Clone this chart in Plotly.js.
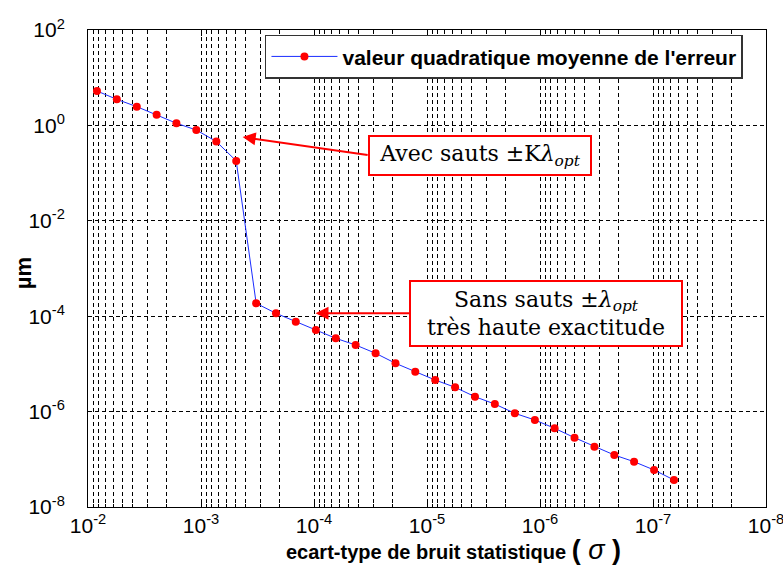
<!DOCTYPE html>
<html>
<head>
<meta charset="utf-8">
<script src="https://cdn.plot.ly/plotly-3.0.1.min.js"></script>
<style>html,body{margin:0;padding:0;background:#fff;}#chart{width:783px;height:567px;}</style>
</head>
<body>
<div id="chart"></div>
<script>
// ecart-type de bruit statistique (sigma)
var sigma = [8.33e-3, 5.56e-3, 3.70e-3, 2.47e-3, 1.65e-3, 1.10e-3, 7.32e-4, 4.88e-4,
             3.25e-4, 2.17e-4, 1.45e-4, 9.63e-5, 6.42e-5, 4.28e-5, 2.85e-5, 1.90e-5,
             1.27e-5, 8.46e-6, 5.64e-6, 3.76e-6, 2.51e-6, 1.67e-6, 1.11e-6, 7.43e-7,
             4.95e-7, 3.30e-7, 2.20e-7, 1.47e-7, 9.78e-8, 6.52e-8];
// valeur quadratique moyenne de l'erreur (um)
var rmsErr = [5.26, 3.52, 2.47, 1.68, 1.11, 0.80, 0.46, 0.18,
              1.86e-4, 1.15e-4, 7.67e-5, 5.14e-5, 3.44e-5, 2.49e-5, 1.67e-5, 1.03e-5,
              6.86e-6, 4.59e-6, 3.23e-6, 2.05e-6, 1.44e-6, 9.2e-7, 6.67e-7, 4.47e-7,
              2.84e-7, 1.84e-7, 1.23e-7, 8.9e-8, 5.97e-8, 3.68e-8];
var yTickVals = [1e-8, 1e-6, 1e-4, 1e-2, 1e0, 1e2];
var yTickText = ['10<sup>-8</sup>', '10<sup>-6</sup>', '10<sup>-4</sup>', '10<sup>-2</sup>', '10<sup>0</sup>', '10<sup>2</sup>'];
var xTickVals = [1e-2, 1e-3, 1e-4, 1e-5, 1e-6, 1e-7, 1e-8];
var xTickText = ['10<sup>-2</sup>', '10<sup>-3</sup>', '10<sup>-4</sup>', '10<sup>-5</sup>', '10<sup>-6</sup>', '10<sup>-7</sup>', '10<sup>-8</sup>'];
var legendName = "valeur quadratique moyenne de l'erreur";
var yTitle = "µm";
var xTitle = "ecart-type de bruit statistique";
var note1 = "Avec sauts ±K<i>λ<sub>opt</sub></i>";
var note2 = "Sans sauts ±<i>λ<sub>opt</sub></i><br>très haute exactitude";
// arrow tips [sigma, um]
var tip1 = [4.28e-4, 0.57];
var tip2 = [9.7e-5, 1.15e-4];

var sans = "'Liberation Sans', Arial, sans-serif";
var serif = "'DejaVu Serif', 'Liberation Serif', serif";

var trace = {
  x: sigma, y: rmsErr, type: 'scatter', mode: 'lines+markers',
  name: '<b>' + legendName + '</b>',
  line: {color: '#1a2cff', width: 1},
  marker: {color: '#ff0000', size: 8}
};

var gridDash = '4px,3px';
var layout = {
  width: 783, height: 567,
  margin: {l: 88, r: 17, t: 30, b: 60},
  paper_bgcolor: '#fff', plot_bgcolor: '#fff',
  showlegend: true,
  legend: {x: 0.261, y: 0.99, xanchor: 'left', yanchor: 'top',
           bgcolor: '#fff', bordercolor: '#333', borderwidth: 1.5,
           font: {family: sans, size: 21, color: '#000'}, itemwidth: 66,
           tracegroupgap: 0},
  xaxis: {
    type: 'log', range: [-2, -8], tickmode: 'array', tickvals: xTickVals, ticktext: xTickText,
    ticklabeloverflow: 'allow',
    showline: true, linecolor: '#000', linewidth: 1, mirror: 'ticks',
    ticks: 'inside', ticklen: 6, tickcolor: '#000',
    showgrid: true, gridcolor: '#000', gridwidth: 1, griddash: gridDash,
    zeroline: false,
    tickfont: {family: sans, size: 21, color: '#000'},
    minor: {dtick: 'D1', showgrid: true, gridcolor: '#000', gridwidth: 1, griddash: gridDash,
            ticks: 'inside', ticklen: 3, tickcolor: '#000'}
  },
  yaxis: {
    type: 'log', range: [-8, 2], tickmode: 'array', tickvals: yTickVals, ticktext: yTickText,
    ticklabeloverflow: 'allow',
    showline: true, linecolor: '#000', linewidth: 1, mirror: true,
    ticks: 'outside', ticklen: 18, tickcolor: 'rgba(0,0,0,0)',
    showgrid: true, gridcolor: '#000', gridwidth: 1, griddash: gridDash,
    zeroline: false,
    tickfont: {family: sans, size: 21, color: '#000'}
  },
  annotations: [
    {x: Math.log10(tip1[0]), y: Math.log10(tip1[1]), xref: 'x', yref: 'y',
     text: note1, showarrow: true, axref: 'pixel', ayref: 'pixel', ax: 125, ay: 18,
     xanchor: 'left', yanchor: 'middle',
     arrowcolor: '#ff0000', arrowwidth: 2, arrowhead: 2, arrowsize: 1.3, standoff: 0,
     bordercolor: '#ff0000', borderwidth: 2, bgcolor: '#fff', borderpad: 4,
     width: 212, height: 29,
     font: {family: serif, size: 22, color: '#000'}},
    {x: Math.log10(tip2[0]), y: Math.log10(tip2[1]), xref: 'x', yref: 'y',
     text: note2, showarrow: true, axref: 'pixel', ayref: 'pixel', ax: 94, ay: 0,
     xanchor: 'left', yanchor: 'middle', align: 'center',
     arrowcolor: '#ff0000', arrowwidth: 2, arrowhead: 2, arrowsize: 1.3, standoff: 0,
     bordercolor: '#ff0000', borderwidth: 2, bgcolor: '#fff', borderpad: 4,
     width: 262, height: 55,
     font: {family: serif, size: 22, color: '#000'}},
    {x: 0.539, y: -0.09, xref: 'paper', yref: 'paper', showarrow: false,
     xanchor: 'center', yanchor: 'middle',
     text: "<b>" + xTitle + "</b> <span style='font-size:27px'><b>(</b> <i>σ</i> <b>)</b></span>",
     font: {family: sans, size: 20, color: '#000'}},
    {x: -0.096, y: 0.49, xref: 'paper', yref: 'paper', showarrow: false,
     xanchor: 'center', yanchor: 'middle', textangle: -90,
     text: "<b>" + yTitle + "</b>",
     font: {family: sans, size: 22, color: '#000'}}
  ]
};

Plotly.newPlot('chart', [trace], layout, {displayModeBar: false, staticPlot: true});
</script>
</body>
</html>
